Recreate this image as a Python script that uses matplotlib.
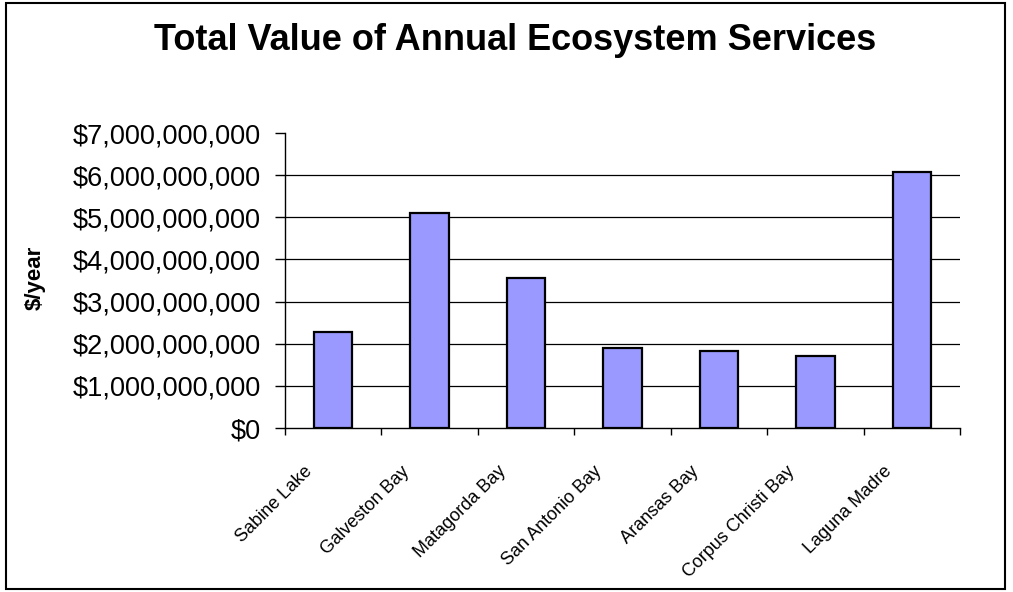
import matplotlib
matplotlib.use('Agg')
import matplotlib.pyplot as plt
import matplotlib.transforms as mtransforms
from matplotlib.patches import Rectangle
from matplotlib.ticker import FuncFormatter, MultipleLocator
import numpy as np

# Data
bays = ['Sabine Lake', 'Galveston Bay', 'Matagorda Bay', 'San Antonio Bay',
        'Aransas Bay', 'Corpus Christi Bay', 'Laguna Madre']
annual_value = [2.28e9, 5.10e9, 3.56e9, 1.91e9, 1.83e9, 1.71e9, 6.07e9]

plt.rcParams['font.family'] = ['Liberation Sans', 'DejaVu Sans']

fig = plt.figure(figsize=(10.13, 5.92), dpi=100)
ax = fig.add_axes([0.2813, 0.2770, 0.6664, 0.4983])

x = np.arange(len(bays))
ax.bar(x, annual_value, width=0.4, color='#9999FF', edgecolor='black',
       linewidth=1.6, zorder=3)

ax.set_xlim(-0.5, len(bays) - 0.5)
ax.set_ylim(0, 7e9)

# y axis: Excel-style dollar labels, black gridlines (none at the top)
ax.yaxis.set_major_locator(MultipleLocator(1e9))
ax.yaxis.set_major_formatter(FuncFormatter(lambda v, p: f'${v:,.0f}'))
ax.tick_params(axis='y', direction='out', length=7, width=1, pad=10.5,
               labelsize=19.5, colors='black')
for yv in ax.get_yticks():
    if 0 < yv < 7e9:
        ax.axhline(yv, color='black', linewidth=0.9, zorder=0)

# x axis: ticks between categories, labels at centres
ax.set_xticks(np.arange(len(bays) + 1) - 0.5)
ax.set_xticklabels([])
ax.tick_params(axis='x', which='major', direction='out', length=5, width=1)
ax.set_xticks(x, minor=True)
ax.set_xticklabels(bays, minor=True, rotation=45, ha='right', va='top',
                   fontsize=13)
ax.tick_params(axis='x', which='minor', length=0, pad=25)
shift = mtransforms.ScaledTranslation(-17 / 100, 0, fig.dpi_scale_trans)
for lbl in ax.get_xticklabels(minor=True):
    lbl.set_transform(lbl.get_transform() + shift)

for side in ['top', 'right']:
    ax.spines[side].set_visible(False)
for side in ['left', 'bottom']:
    ax.spines[side].set_linewidth(1)
    ax.spines[side].set_color('black')

fig.text(0.0345, 0.530, '$/year', rotation=90, ha='center', va='center',
         fontsize=16, fontweight='bold')
fig.text(0.509, 0.932, 'Total Value of Annual Ecosystem Services',
         ha='center', va='center', fontsize=26, fontweight='bold')

# outer chart border
fig.patches.append(Rectangle((6 / 1013, 3 / 592), 999 / 1013, 586 / 592,
                             transform=fig.transFigure, fill=False,
                             edgecolor='black', linewidth=1.5))

plt.savefig('out.png', dpi=100)
plt.close()
